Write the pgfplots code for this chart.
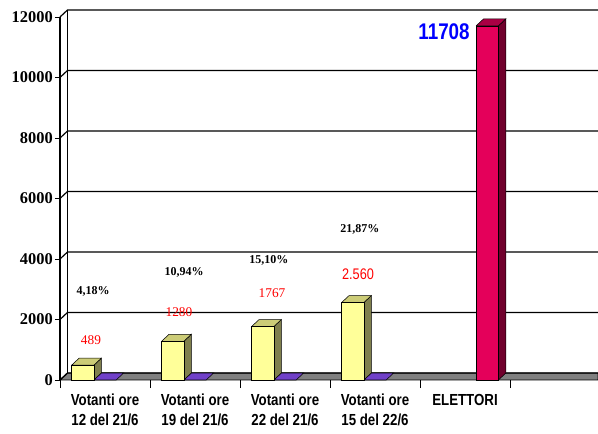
\documentclass[border=0pt]{standalone}
\usepackage{fontspec}
\setmainfont{Liberation Serif}
\newfontfamily\cond[FakeStretch=0.83]{Liberation Sans}
\usepackage{pgfplots}
\pgfplotsset{compat=1.18}
\definecolor{yfront}{RGB}{255,255,153}
\definecolor{ytop}{RGB}{204,204,119}
\definecolor{yside}{RGB}{128,128,77}
\definecolor{rfront}{RGB}{228,0,90}
\definecolor{rtop}{RGB}{170,0,68}
\definecolor{rside}{RGB}{112,0,44}
\definecolor{purp}{RGB}{112,64,200}
\definecolor{floorgray}{RGB}{128,128,128}
\definecolor{valred}{RGB}{255,0,0}
\definecolor{valblue}{RGB}{0,0,255}
\begin{document}
\begin{tikzpicture}
\begin{axis}[
  scale only axis,
  width=403.5pt, height=277.5pt,
  xmin=-0.5, xmax=5.4778,
  ymin=0, ymax=12231,
  axis line style={draw=none},
  clip=false,
  xtick={0,1,2,3,4},
  xticklabels={{Votanti ore\\12 del 21/6},{Votanti ore\\19 del 21/6},{Votanti ore\\22 del 21/6},{Votanti ore\\15 del 22/6},{ELETTORI}},
  minor xtick={-0.5,0.5,1.5,2.5,3.5,4.5},
  major x tick style={draw=none},
  minor x tick style={black, line width=0.6pt},
  ytick={0,2000,4000,6000,8000,10000,12000},
  y tick style={black, line width=0.6pt},
  tick align=outside,
  major tick length=3.75pt,
  minor tick length=6pt,
  xtick pos=left, ytick pos=left,
  scaled y ticks=false,
  /pgf/number format/1000 sep={},
  /pgf/number format/assume math mode=true,
  yticklabel style={font=\bfseries\fontsize{12.3}{12.3}\selectfont, inner sep=1.5pt},
  xticklabel style={align=center, font=\cond\bfseries\fontsize{12}{15}\selectfont, yshift=-3.5pt},
]
\coordinate (o) at (axis cs:-0.5,0);
% floor
\addplot[fill=floorgray, draw=black, line width=0.5pt] coordinates {(-0.5,0) (5.4778,0) (5.4778,231) (-0.4167,231) (-0.5,0)};
% back wall grid lines with connectors to front axis
\addplot[black, line width=1pt] coordinates {(-0.5,0) (-0.4167,231) (5.4778,231)};
\addplot[black, line width=0.9pt] coordinates {(-0.5,2000) (-0.4167,2231) (5.4778,2231)};
\addplot[black, line width=0.9pt] coordinates {(-0.5,4000) (-0.4167,4231) (5.4778,4231)};
\addplot[black, line width=0.9pt] coordinates {(-0.5,6000) (-0.4167,6231) (5.4778,6231)};
\addplot[black, line width=0.9pt] coordinates {(-0.5,8000) (-0.4167,8231) (5.4778,8231)};
\addplot[black, line width=0.9pt] coordinates {(-0.5,10000) (-0.4167,10231) (5.4778,10231)};
\addplot[black, line width=0.9pt] coordinates {(-0.5,12000) (-0.4167,12231) (5.4778,12231)};
% back wall left edge and front axis line
\addplot[black, line width=0.8pt] coordinates {(-0.4167,231) (-0.4167,12231)};
\addplot[black, line width=0.8pt] coordinates {(-0.5,0) (-0.5,12000)};
% purple flat bars (value 0)
\addplot[fill=purp, draw=black, line width=0.4pt] coordinates {(-0.124,0) (0.124,0) (0.207,231) (-0.041,231) (-0.124,0)};
\addplot[fill=purp, draw=black, line width=0.4pt] coordinates {(0.876,0) (1.124,0) (1.207,231) (0.959,231) (0.876,0)};
\addplot[fill=purp, draw=black, line width=0.4pt] coordinates {(1.876,0) (2.124,0) (2.207,231) (1.959,231) (1.876,0)};
\addplot[fill=purp, draw=black, line width=0.4pt] coordinates {(2.876,0) (3.124,0) (3.207,231) (2.959,231) (2.876,0)};
% yellow bars: side and top faces
\addplot[fill=yside, draw=black, line width=0.4pt] coordinates {(-0.124,0) (-0.041,231) (-0.041,720) (-0.124,489) (-0.124,0)};
\addplot[fill=ytop, draw=black, line width=0.4pt] coordinates {(-0.371,489) (-0.124,489) (-0.041,720) (-0.288,720) (-0.371,489)};
\addplot[fill=yside, draw=black, line width=0.4pt] coordinates {(0.876,0) (0.959,231) (0.959,1511) (0.876,1280) (0.876,0)};
\addplot[fill=ytop, draw=black, line width=0.4pt] coordinates {(0.629,1280) (0.876,1280) (0.959,1511) (0.712,1511) (0.629,1280)};
\addplot[fill=yside, draw=black, line width=0.4pt] coordinates {(1.876,0) (1.959,231) (1.959,1998) (1.876,1767) (1.876,0)};
\addplot[fill=ytop, draw=black, line width=0.4pt] coordinates {(1.629,1767) (1.876,1767) (1.959,1998) (1.712,1998) (1.629,1767)};
\addplot[fill=yside, draw=black, line width=0.4pt] coordinates {(2.876,0) (2.959,231) (2.959,2791) (2.876,2560) (2.876,0)};
\addplot[fill=ytop, draw=black, line width=0.4pt] coordinates {(2.629,2560) (2.876,2560) (2.959,2791) (2.712,2791) (2.629,2560)};
% yellow front faces
\addplot[ybar, bar width=0.247, bar shift=-0.2475, fill=yfront, draw=black, line width=0.4pt] coordinates {(0,489) (1,1280) (2,1767) (3,2560)};
% red bar
\addplot[fill=rside, draw=black, line width=0.4pt] coordinates {(4.371,0) (4.454,231) (4.454,11939) (4.371,11708) (4.371,0)};
\addplot[fill=rtop, draw=black, line width=0.4pt] coordinates {(4.124,11708) (4.371,11708) (4.454,11939) (4.207,11939) (4.124,11708)};
\addplot[ybar, bar width=0.247, bar shift=0.2475, fill=rfront, draw=black, line width=0.4pt] coordinates {(4,11708)};
% labels
\node[font=\bfseries\fontsize{9}{9}\selectfont] at (axis cs:-0.133,2942) {4,18\%};
\node[font=\bfseries\fontsize{9}{9}\selectfont] at (axis cs:0.878,3570) {10,94\%};
\node[font=\bfseries\fontsize{9}{9}\selectfont] at (axis cs:1.822,3967) {15,10\%};
\node[font=\bfseries\fontsize{9}{9}\selectfont] at (axis cs:2.833,4992) {21,87\%};
\node[font=\fontsize{10}{10}\selectfont, text=valred] at (axis cs:-0.156,1322) {489};
\node[font=\fontsize{10}{10}\selectfont, text=valred] at (axis cs:0.822,2258) {1280};
\node[font=\fontsize{10}{10}\selectfont, text=valred] at (axis cs:1.856,2866) {1767};
\node[font=\cond\fontsize{11.5}{11.5}\selectfont, text=valred] at (axis cs:2.811,3504) {2.560};
\node[font=\cond\bfseries\fontsize{17}{17}\selectfont, text=valblue] at (axis cs:3.767,11504) {11708};
\end{axis}
\pgfresetboundingbox
\path (o) ++(-45pt,-40.5pt) rectangle ++(448.5pt,325.5pt);
\end{tikzpicture}
\end{document}
